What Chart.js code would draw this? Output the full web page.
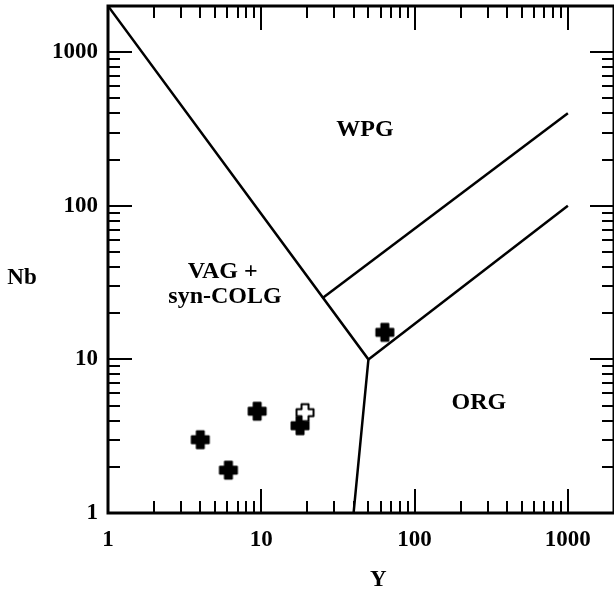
<!DOCTYPE html>
<html>
<head>
<meta charset="utf-8">
<script src="https://cdn.jsdelivr.net/npm/chart.js@4.4.1/dist/chart.umd.min.js"></script>
<style>
  html, body { margin: 0; padding: 0; background: #fff; overflow: hidden; }
  #wrap { position: absolute; left: 0; top: 0; width: 619px; height: 591px; }
</style>
</head>
<body>
<div id="wrap"><canvas id="myChart" width="619" height="591"></canvas></div>
<script>
// Nb vs Y discrimination diagram (log-log)
var xTickLabels = [1, 10, 100, 1000];
var yTickLabels = [1, 10, 100, 1000];
var axisMin = 1;
var axisMax = 2000;

// field boundaries
var vagBoundaryY = [1, 50, 40];
var vagBoundaryNb = [2000, 10, 1];
var orgBoundaryY = [50, 1000];
var orgBoundaryNb = [10, 100];
var wpgBoundaryY = [25, 1000];
var wpgBoundaryNb = [25, 400];

// samples
var sampleY = [4.0, 6.1, 9.4, 17.9, 64];
var sampleNb = [3.0, 1.9, 4.6, 3.7, 15];
var openSampleY = [19.3];
var openSampleNb = [4.5];

// field names, anchored in data units
var fieldNames = ['WPG', 'VAG +', 'syn-COLG', 'ORG'];
var fieldY = [47.5, 5.6, 5.8, 263];
var fieldNb = [311, 37, 25.5, 5.2];

var serif = '"Liberation Serif", "Times New Roman", serif';

function toPoints(xs, ys) {
    var pts = [];
    for (var i = 0; i < xs.length; i++) pts.push({ x: xs[i], y: ys[i] });
    return pts;
}

function makePlus(fill) {
    var c = document.createElement('canvas');
    c.width = 22; c.height = 22;
    var g = c.getContext('2d');
    var m = 11, a = 8.5, w = 3.5;
    g.beginPath();
    g.moveTo(m - w, m - a); g.lineTo(m + w, m - a); g.lineTo(m + w, m - w);
    g.lineTo(m + a, m - w); g.lineTo(m + a, m + w); g.lineTo(m + w, m + w);
    g.lineTo(m + w, m + a); g.lineTo(m - w, m + a); g.lineTo(m - w, m + w);
    g.lineTo(m - a, m + w); g.lineTo(m - a, m - w); g.lineTo(m - w, m - w);
    g.closePath();
    g.fillStyle = fill;
    g.fill();
    g.lineJoin = 'round';
    g.lineWidth = 2;
    g.strokeStyle = '#000';
    g.stroke();
    return c;
}

// 1..9 x 10^n up to the axis max
function tickValues(max) {
    var t = [];
    for (var d = 1; d <= 1000; d *= 10) {
        for (var m = 1; m <= 9; m++) {
            if (d * m <= max) t.push(d * m);
        }
    }
    return t;
}

function isDecade(v) {
    var l = Math.log10(v);
    return Math.abs(l - Math.round(l)) < 1e-9;
}

function noPadding(s) {
    s.paddingTop = 0; s.paddingBottom = 0; s.paddingLeft = 0; s.paddingRight = 0;
}

var framePlugin = {
    id: 'frame',
    beforeDatasetsDraw: function (chart) {
        var ctx = chart.ctx, a = chart.chartArea;
        var xs = chart.scales.x, ys = chart.scales.y;
        ctx.save();
        ctx.strokeStyle = '#000';
        ctx.lineWidth = 2;
        tickValues(axisMax).forEach(function (v) {
            var px = Math.round(xs.getPixelForValue(v));
            var len = isDecade(v) ? 24 : 12;
            ctx.beginPath();
            ctx.moveTo(px, a.bottom); ctx.lineTo(px, a.bottom - len);
            ctx.moveTo(px, a.top); ctx.lineTo(px, a.top + len);
            ctx.stroke();
        });
        tickValues(axisMax).forEach(function (v) {
            var py = Math.round(ys.getPixelForValue(v));
            var len = isDecade(v) ? 24 : 12;
            ctx.beginPath();
            ctx.moveTo(a.left, py); ctx.lineTo(a.left + len, py);
            ctx.moveTo(a.right, py); ctx.lineTo(a.right - len, py);
            ctx.stroke();
        });
        ctx.lineWidth = 3;
        ctx.strokeRect(a.left, a.top, a.right - a.left, a.bottom - a.top);

        ctx.fillStyle = '#000';
        ctx.font = 'bold 24px ' + serif;
        ctx.textAlign = 'center';
        ctx.textBaseline = 'middle';
        for (var i = 0; i < fieldNames.length; i++) {
            ctx.fillText(fieldNames[i], xs.getPixelForValue(fieldY[i]), ys.getPixelForValue(fieldNb[i]));
        }
        // axis titles
        ctx.font = 'bold 23px ' + serif;
        ctx.fillText('Y', xs.getPixelForValue(58), 580);
        ctx.fillText('Nb', 22, ys.getPixelForValue(34));
        ctx.restore();
    }
};

var labelFont = { family: serif, size: 23, weight: 'bold' };

var ctx = document.getElementById('myChart').getContext('2d');
var chart = new Chart(ctx, {
    type: 'scatter',
    data: {
        datasets: [{
            label: 'open',
            data: toPoints(openSampleY, openSampleNb),
            pointStyle: makePlus('#fff'),
            order: 0
        }, {
            label: 'samples',
            data: toPoints(sampleY, sampleNb),
            pointStyle: makePlus('#000'),
            order: 1
        }, {
            label: 'VAG',
            type: 'line',
            data: toPoints(vagBoundaryY, vagBoundaryNb),
            borderColor: '#000', borderWidth: 2.5, pointRadius: 0, fill: false, tension: 0,
            order: 2
        }, {
            label: 'ORG',
            type: 'line',
            data: toPoints(orgBoundaryY, orgBoundaryNb),
            borderColor: '#000', borderWidth: 2.5, pointRadius: 0, fill: false, tension: 0,
            order: 2
        }, {
            label: 'WPG',
            type: 'line',
            data: toPoints(wpgBoundaryY, wpgBoundaryNb),
            borderColor: '#000', borderWidth: 2.5, pointRadius: 0, fill: false, tension: 0,
            order: 2
        }]
    },
    options: {
        responsive: false,
        animation: false,
        devicePixelRatio: 1,
        layout: { padding: { left: 0, right: 2, top: 6, bottom: 0 } },
        plugins: { legend: { display: false }, tooltip: { enabled: false } },
        scales: {
            x: {
                type: 'logarithmic', min: axisMin, max: axisMax,
                grid: { display: false, drawTicks: false }, border: { display: false },
                afterBuildTicks: function (s) {
                    s.ticks = xTickLabels.map(function (v) { return { value: v }; });
                },
                afterFit: function (s) { s.height = 78; noPadding(s); },
                ticks: {
                    autoSkip: false, maxRotation: 0, padding: 13, color: '#000', font: labelFont,
                    callback: function (v) { return String(v); }
                }
            },
            y: {
                type: 'logarithmic', min: axisMin, max: axisMax,
                grid: { display: false, drawTicks: false }, border: { display: false },
                afterBuildTicks: function (s) {
                    s.ticks = yTickLabels.map(function (v) { return { value: v }; });
                },
                afterFit: function (s) { s.width = 108; noPadding(s); },
                ticks: {
                    autoSkip: false, padding: 10, color: '#000', font: labelFont,
                    callback: function (v) { return String(v); }
                }
            }
        }
    },
    plugins: [framePlugin]
});
</script>
</body>
</html>
